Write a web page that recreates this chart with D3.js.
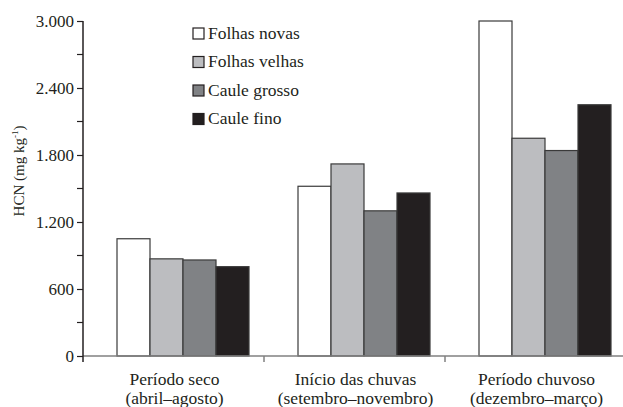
<!DOCTYPE html>
<html>
<head>
<meta charset="utf-8">
<script src="https://cdn.jsdelivr.net/npm/d3@7"></script>
<style>
  body { margin: 0; background: #fff; }
  svg text { font-family: "Liberation Serif", "Times New Roman", Tinos, "Nimbus Roman", "DejaVu Serif", "Noto Serif", serif; fill: #231f20; }
</style>
</head>
<body>
<script>
const periods = ['Período seco', 'Início das chuvas', 'Período chuvoso'];
const months = ['(abril–agosto)', '(setembro–novembro)', '(dezembro–março)'];
const series = ['Folhas novas', 'Folhas velhas', 'Caule grosso', 'Caule fino'];
const folhasNovas = [1050, 1520, 3000];
const folhasVelhas = [870, 1720, 1950];
const cauleGrosso = [860, 1300, 1840];
const cauleFino = [800, 1460, 2250];
const yTicks = [0, 600, 1200, 1800, 2400, 3000];
const yMinor = [300, 900, 1500, 2100, 2700];

const values = [folhasNovas, folhasVelhas, cauleGrosso, cauleFino];
const colors = ['#ffffff', '#bcbdc0', '#808285', '#231f20'];

const width = 623;
const height = 407;

const svg = d3.select('body')
  .append('svg')
    .attr('width', width)
    .attr('height', height);

const x = d3.scaleBand()
  .domain(periods)
  .range([83, 626]);

// bars sit a bit right of the band centre, as in the original
const xInner = d3.scaleBand()
  .domain(series)
  .range([34, 166]);

const y = d3.scaleLinear()
  .domain([0, 3000])
  .range([356, 21]);

const fmt = d3.formatLocale({ decimal: ',', thousands: '.', grouping: [3], currency: ['', ''] }).format(',d');

// bars
const groups = svg.append('g')
  .selectAll('g')
  .data(periods)
  .enter()
    .append('g')
      .attr('transform', d => `translate(${x(d)},0)`);

groups.selectAll('rect')
  .data((p, i) => series.map((s, j) => ({ s, j, v: values[j][i] })))
  .enter()
    .append('rect')
      .attr('x', d => xInner(d.s))
      .attr('y', d => y(d.v))
      .attr('width', xInner.bandwidth())
      .attr('height', d => y(0) - y(d.v))
      .attr('fill', d => colors[d.j])
      .attr('stroke', '#3a3a3a')
      .attr('stroke-width', 1.2);

// x axis
const xAxis = svg.append('g')
  .attr('transform', `translate(0,${y(0)})`);
xAxis.append('line')
  .attr('x1', 83).attr('x2', 626)
  .attr('stroke', '#808080').attr('stroke-width', 1.5);
xAxis.selectAll('.xt')
  .data(periods.slice(1))
  .enter()
    .append('line')
      .attr('x1', d => x(d)).attr('x2', d => x(d))
      .attr('y1', 0).attr('y2', 6)
      .attr('stroke', '#808080').attr('stroke-width', 1.5);

const xl = svg.append('g')
  .selectAll('text')
  .data(periods)
  .enter()
    .append('text')
      .attr('x', d => x(d) + x.bandwidth() / 2 + 1)
      .attr('y', 385)
      .attr('text-anchor', 'middle')
      .style('font-size', '17.5px');
xl.append('tspan').text(d => d);
xl.append('tspan')
  .attr('x', d => x(d) + x.bandwidth() / 2 + 1)
  .attr('dy', 19)
  .text((d, i) => months[i]);

// y axis
const yAxis = svg.append('g')
  .attr('transform', 'translate(83,0)')
  .call(d3.axisLeft(y).tickValues(yTicks).tickSize(6).tickPadding(3).tickFormat(fmt));
yAxis.attr('font-family', null);
yAxis.select('.domain').remove();
yAxis.append('line')
  .attr('y1', y(3000)).attr('y2', y(0) + 6)
  .attr('stroke', '#231f20').attr('stroke-width', 1.5);
yAxis.selectAll('.tick line').attr('stroke', '#231f20').attr('stroke-width', 1.2);
yAxis.selectAll('.tick text')
  .style('font-size', '17px')
  .attr('fill', '#231f20');
yAxis.selectAll('.minor')
  .data(yMinor)
  .enter()
    .append('line')
      .attr('x1', -6).attr('x2', 0)
      .attr('y1', d => y(d)).attr('y2', d => y(d))
      .attr('stroke', '#231f20').attr('stroke-width', 1.2);

// y label
const yl = svg.append('text')
  .attr('transform', 'translate(24,171) rotate(-90)')
  .attr('text-anchor', 'middle')
  .style('font-size', '15px');
yl.append('tspan').text('HCN (mg kg');
yl.append('tspan').attr('dy', -6).style('font-size', '9px').text('-1');
yl.append('tspan').attr('dy', 6).text(')');

// legend
const legend = svg.append('g')
  .selectAll('g')
  .data(series)
  .enter()
    .append('g')
      .attr('transform', (d, i) => `translate(193,${28 + i * 28.5})`);
legend.append('rect')
  .attr('width', 11).attr('height', 11)
  .attr('fill', (d, i) => colors[i])
  .attr('stroke', '#231f20').attr('stroke-width', 1.2);
legend.append('text')
  .attr('x', 15)
  .attr('y', 10.5)
  .style('font-size', '17.5px')
  .text(d => d);
</script>
</body>
</html>
